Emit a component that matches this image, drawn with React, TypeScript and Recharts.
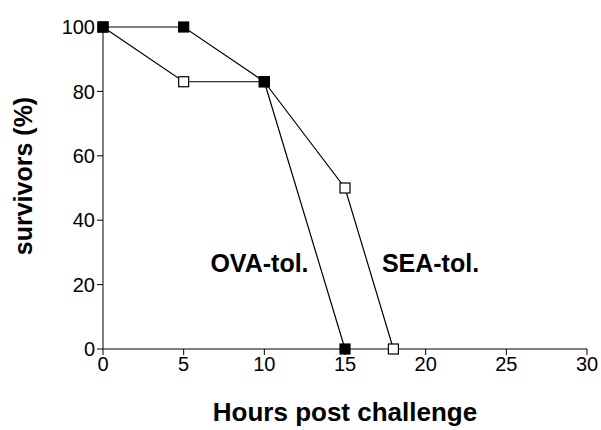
import React from 'react';
import { LineChart, Line, XAxis, YAxis, ReferenceDot } from 'recharts';

const ovaHours = [0, 5, 10, 15];
const ovaSurvivors = [100, 100, 83, 0];
const seaHours = [0, 5, 10, 15, 18];
const seaSurvivors = [100, 83, 83, 50, 0];
const xTicks = [0, 5, 10, 15, 20, 25, 30];
const yTicks = [0, 20, 40, 60, 80, 100];

const ova = ovaHours.map((h, i) => ({ h, v: ovaSurvivors[i] }));
const sea = seaHours.map((h, i) => ({ h, v: seaSurvivors[i] }));

const font = 'Liberation Sans, Arial, sans-serif';

const Square = (filled: boolean) => (props: any) => {
  const { cx, cy, index } = props;
  if (cx == null || cy == null) return <g key={index} />;
  return (
    <rect
      key={index}
      x={cx - 5}
      y={cy - 5}
      width={10}
      height={10}
      fill={filled ? '#000' : '#fff'}
      stroke="#000"
      strokeWidth={1.2}
    />
  );
};

const YTitle = (props: any) => {
  const { viewBox } = props;
  // axis box starts at the left margin; the title sits left of the tick labels
  const x = viewBox.x - 20;
  const y = viewBox.y + viewBox.height / 2 - 12;
  return (
    <text
      x={x}
      y={y}
      transform={`rotate(-90 ${x} ${y})`}
      textAnchor="middle"
      dominantBaseline="central"
      fill="#000"
      fontSize={25}
      fontWeight="bold"
      fontFamily={font}
    >
      survivors (%)
    </text>
  );
};

const noteStyle = { fill: '#000', fontSize: 25, fontWeight: 'bold', fontFamily: font };

const App: React.FC = () => {
  return (
    <div style={{ position: 'fixed', left: 0, top: 0, background: '#fff' }}>
      <LineChart width={601} height={430} margin={{ top: 27, right: 14, bottom: 51, left: 43 }}>
        <XAxis
          type="number"
          dataKey="h"
          domain={[0, 30]}
          ticks={xTicks}
          allowDuplicatedCategory={false}
          stroke="#000"
          tickSize={6}
          tick={{ fill: '#000', fontSize: 20, fontFamily: font }}
          height={30}
          label={{ value: 'Hours post challenge', position: 'insideBottom', offset: -42, fill: '#000', fontSize: 26, fontWeight: 'bold', fontFamily: font }}
        />
        <YAxis
          type="number"
          dataKey="v"
          domain={[0, 100]}
          ticks={yTicks}
          stroke="#000"
          tickSize={6}
          width={60}
          tick={{ fill: '#000', fontSize: 20, fontFamily: font }}
          label={<YTitle />}
        />
        <Line
          data={sea}
          dataKey="v"
          stroke="#000"
          strokeWidth={1.2}
          dot={Square(false)}
          isAnimationActive={false}
        />
        <Line
          data={ova}
          dataKey="v"
          stroke="#000"
          strokeWidth={1.2}
          dot={Square(true)}
          isAnimationActive={false}
        />
        <ReferenceDot x={9.7} y={26.7} r={0} stroke="none" label={{ value: 'OVA-tol.', position: 'center', ...noteStyle }} />
        <ReferenceDot x={20.3} y={26.7} r={0} stroke="none" label={{ value: 'SEA-tol.', position: 'center', ...noteStyle }} />
      </LineChart>
    </div>
  );
};

export default App;
